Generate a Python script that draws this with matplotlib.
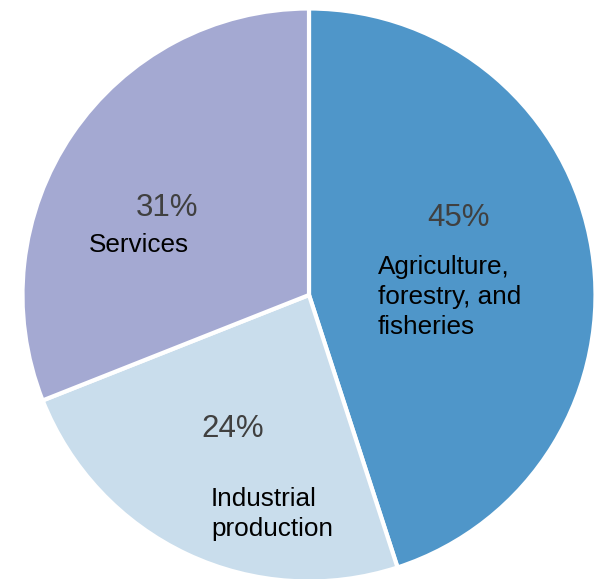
import matplotlib.pyplot as plt

# Share of output by sector
sectors = ["Agriculture,\nforestry, and\nfisheries", "Industrial\nproduction", "Services"]
shares = [45, 24, 31]
colors = ["#4F96C9", "#C9DDEC", "#A4A9D2"]

plt.rcParams["font.family"] = ["Liberation Sans", "DejaVu Sans"]

fig = plt.figure(figsize=(5.96, 5.79), dpi=100)
R = 286.5
CX, CY = 309, 295
ax = fig.add_axes([(CX - R) / 596, (579 - CY - R) / 579, 2 * R / 596, 2 * R / 579])
ax.pie(shares, colors=colors, startangle=90, counterclock=False, radius=1,
       wedgeprops=dict(edgecolor="white", linewidth=3))
ax.set_xlim(-1, 1)
ax.set_ylim(-1, 1)
ax.set_aspect("equal")
ax.axis("off")


def px(x, y):
    # pixel position -> data coordinates around the pie centre
    return (x - CX) / R, (CY - y) / R


pct_pos = [(458, 218), (233, 429), (167, 208)]
lab_pos = [(378, 297), (211, 514), (89, 245)]
for s, v, p, l in zip(sectors, shares, pct_pos, lab_pos):
    ax.text(*px(*p), f"{v}%", fontsize=22.5, color="#404040", ha="center", va="center")
    ax.text(*px(*l), s, fontsize=18.8, color="black", ha="left", va="center", linespacing=1.32)

fig.savefig("out.png", dpi=100)
